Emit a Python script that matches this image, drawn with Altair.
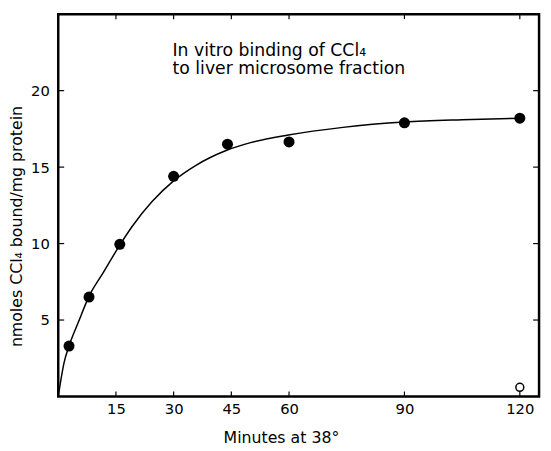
import altair as alt
import pandas as pd

# measured points (filled circles)
pt_t = [2.8, 8, 16, 30, 44, 60, 90, 120]
pt_y = [3.3, 6.5, 9.95, 14.4, 16.5, 16.65, 17.9, 18.2]
# open circle (control)
open_t = [120]
open_y = [0.6]
# fitted curve
curve_t = [0, 0.5, 1.5, 2.8, 5.3, 7.9, 11.7, 16, 19.3, 24.4, 30, 35.7, 43.8, 50, 59.8, 74, 90, 105, 121]
curve_y = [0, 0.8, 2.2, 3.3, 4.9, 6.5, 8.1, 9.9, 11.15, 12.75, 14.1, 15.1, 16.1, 16.6, 17.1, 17.6, 17.95, 18.1, 18.2]
x_ticks = [15, 30, 45, 60, 90, 120]
y_ticks = [5, 10, 15, 20]
note_lines = ["In vitro binding of CCl\u2084", "to liver microsome fraction"]

FONT = "DejaVu Sans"
W, H = 488, 388

pts = pd.DataFrame({"t": pt_t, "y": pt_y})
opn = pd.DataFrame({"t": open_t, "y": open_y})
crv = pd.DataFrame({"t": curve_t, "y": curve_y})
xt = pd.DataFrame({"v": x_ticks})
yt = pd.DataFrame({"v": y_ticks})

xs = alt.Scale(domain=[0, 125], nice=False, zero=False)
ys = alt.Scale(domain=[0, 25], nice=False, zero=False)

xaxis = alt.Axis(values=x_ticks, ticks=False, domain=False, grid=False,
                 labelPadding=5, labelFont=FONT, labelFontSize=15, labelColor="black",
                 title="Minutes at 38\u00b0", titleFont=FONT, titleFontSize=16,
                 titleFontWeight="normal", titleColor="black",
                 titleX=226, titleY=42, titleBaseline="middle", titleAlign="center")
yaxis = alt.Axis(values=y_ticks, ticks=False, domain=False, grid=False,
                 labelPadding=9, labelFont=FONT, labelFontSize=15, labelColor="black",
                 title="nmoles CCl\u2084 bound/mg protein", titleFont=FONT, titleFontSize=16,
                 titleFontWeight="normal", titleColor="black",
                 titleX=-42, titleY=215, titleBaseline="middle", titleAlign="center", titleAngle=-90)

curve = alt.Chart(crv).mark_line(color="black", strokeWidth=1.5, interpolate="monotone").encode(
    x=alt.X("t:Q", scale=xs, axis=xaxis),
    y=alt.Y("y:Q", scale=ys, axis=yaxis),
)
dots = alt.Chart(pts).mark_circle(color="black", opacity=1, size=125).encode(
    x=alt.X("t:Q", scale=xs), y=alt.Y("y:Q", scale=ys))
opens = alt.Chart(opn).mark_point(color="black", filled=False, size=65, strokeWidth=1.5, opacity=1).encode(
    x=alt.X("t:Q", scale=xs), y=alt.Y("y:Q", scale=ys))

bt = alt.Chart(xt).mark_rule(color="black", strokeWidth=1.2).encode(
    x=alt.X("v:Q", scale=xs), y=alt.value(H), y2=alt.value(H - 5))
tt = alt.Chart(xt).mark_rule(color="black", strokeWidth=1.2).encode(
    x=alt.X("v:Q", scale=xs), y=alt.value(0), y2=alt.value(5))
lt = alt.Chart(yt).mark_rule(color="black", strokeWidth=1.2).encode(
    y=alt.Y("v:Q", scale=ys), x=alt.value(0), x2=alt.value(6))
rt = alt.Chart(yt).mark_rule(color="black", strokeWidth=1.2).encode(
    y=alt.Y("v:Q", scale=ys), x=alt.value(W), x2=alt.value(W - 6))

note1 = alt.Chart(pd.DataFrame({"line": [note_lines[0]]})).mark_text(
    font=FONT, fontSize=17.5, align="left", baseline="middle", color="black").encode(
    text="line:N", x=alt.value(116), y=alt.value(37))
note2 = alt.Chart(pd.DataFrame({"line": [note_lines[1]]})).mark_text(
    font=FONT, fontSize=17.5, align="left", baseline="middle", color="black").encode(
    text="line:N", x=alt.value(116), y=alt.value(56))

chart = alt.layer(curve, dots, opens, bt, tt, lt, rt, note1, note2).properties(
    width=W, height=H,
    autosize=alt.AutoSizeParams(type="none"),
    padding={"left": 51, "top": 3, "right": 4, "bottom": 50},
).configure_view(stroke="black", strokeWidth=2.5)

chart.save("out.html", embed_options={"renderer": "svg", "actions": False})
